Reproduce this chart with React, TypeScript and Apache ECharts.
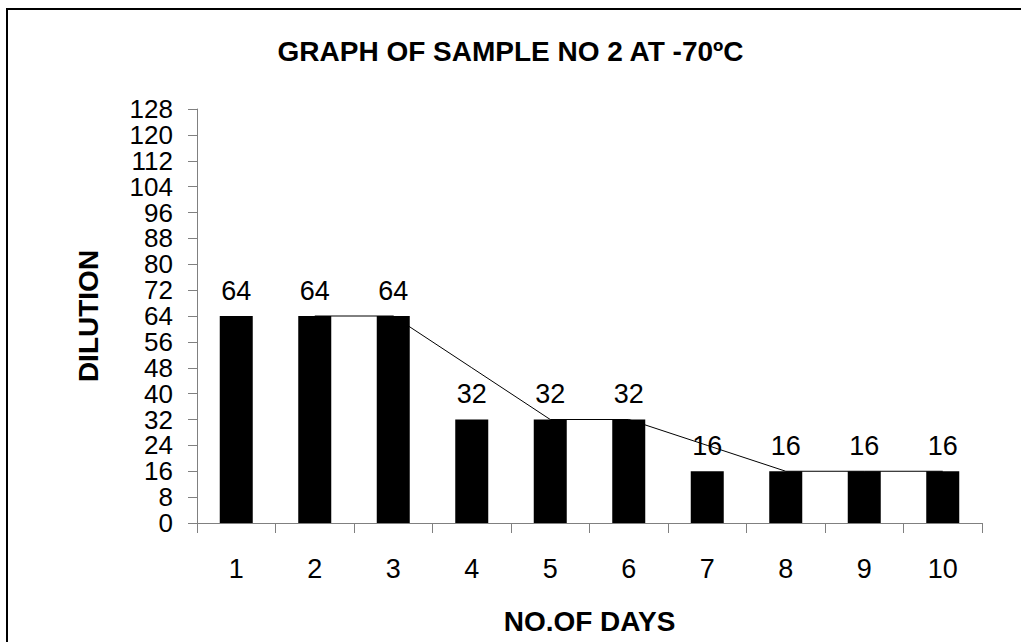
import React, { useEffect, useRef } from "react";
import * as echarts from "echarts";

const days = ["1", "2", "3", "4", "5", "6", "7", "8", "9", "10"];
const dilution = [64, 64, 64, 32, 32, 32, 16, 16, 16, 16];
// 2-period moving average trendline
const movingAvg = [null, 64, 64, 48, 32, 32, 24, 16, 16, 16];
const titleText = "GRAPH OF SAMPLE NO 2 AT -70ºC";
const yName = "DILUTION";
const xName = "NO.OF DAYS";

const FONT = "'Liberation Sans', Arial, sans-serif";

export default function App() {
  const ref = useRef<HTMLDivElement>(null);
  useEffect(() => {
    if (!ref.current) return;
    const chart = echarts.init(ref.current, null, { renderer: "svg" });
    chart.setOption({
      animation: false,
      backgroundColor: "#ffffff",
      textStyle: { fontFamily: FONT, color: "#000" },
      title: {
        text: titleText,
        left: "center",
        top: 32,
        textStyle: { fontFamily: FONT, fontSize: 28, fontWeight: "bold", color: "#000" },
      },
      graphic: [
        {
          type: "rect",
          shape: { x: 7, y: 9, width: 1040, height: 660 },
          style: { fill: "none", stroke: "#000", lineWidth: 2 },
          silent: true,
        },
      ],
      grid: { left: 197, right: 39, top: 109, bottom: 119 },
      xAxis: {
        type: "category",
        data: days,
        boundaryGap: true,
        name: xName,
        nameLocation: "middle",
        nameGap: 84,
        nameTextStyle: { fontFamily: FONT, fontSize: 28, fontWeight: "bold", color: "#000" },
        axisLine: { lineStyle: { color: "#808080", width: 1 } },
        axisTick: { show: true, length: 10, alignWithLabel: false, lineStyle: { color: "#808080" } },
        axisLabel: { fontFamily: FONT, fontSize: 27, color: "#000", margin: 32 },
        splitLine: { show: false },
      },
      yAxis: {
        type: "value",
        min: 0,
        max: 128,
        interval: 8,
        name: yName,
        nameLocation: "middle",
        nameGap: 95,
        nameTextStyle: { fontFamily: FONT, fontSize: 28, fontWeight: "bold", color: "#000" },
        axisLine: { show: true, lineStyle: { color: "#808080", width: 1 } },
        axisTick: { show: true, length: 9, lineStyle: { color: "#808080" } },
        axisLabel: {
          fontFamily: FONT,
          fontSize: 26,
          lineHeight: 24,
          color: "#000",
          margin: 24,
          showMinLabel: true,
          showMaxLabel: true,
          hideOverlap: false,
        },
        splitLine: { show: false },
      },
      series: [
        {
          type: "line",
          data: movingAvg,
          z: 1,
          symbol: "none",
          lineStyle: { color: "#000", width: 1 },
          connectNulls: false,
        },
        {
          type: "bar",
          data: dilution,
          z: 3,
          barWidth: 33,
          itemStyle: { color: "#000" },
          label: {
            show: true,
            position: "top",
            distance: 12,
            fontFamily: FONT,
            fontSize: 27,
            color: "#000",
          },
        },
      ],
    });
    return () => chart.dispose();
  }, []);
  return (
    <div
      ref={ref}
      style={{ position: "absolute", left: 0, top: 0, width: 1021, height: 642 }}
    />
  );
}
